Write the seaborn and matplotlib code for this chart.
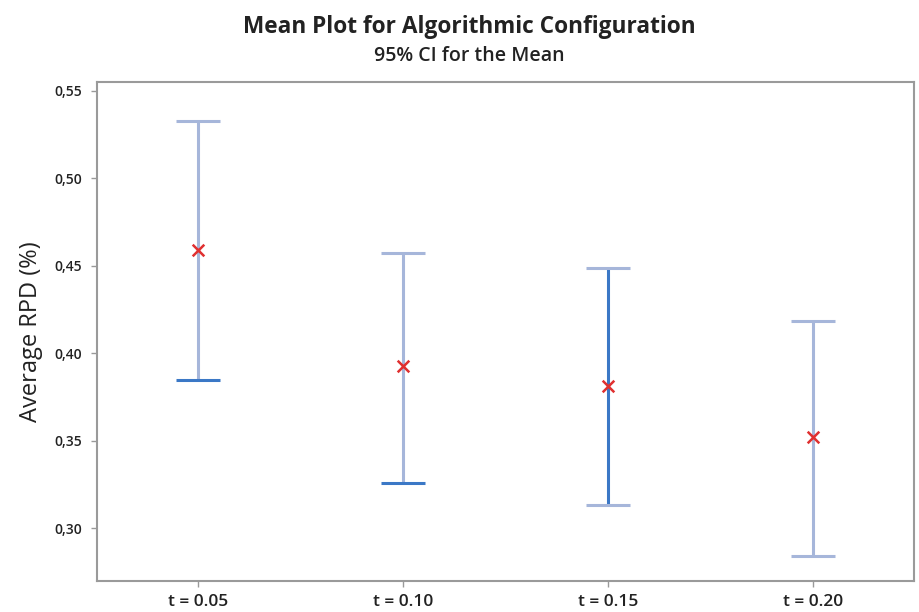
import matplotlib
matplotlib.use("Agg")
import matplotlib.pyplot as plt
import seaborn as sns
import pandas as pd

categories = ["t = 0.05", "t = 0.10", "t = 0.15", "t = 0.20"]
means = [0.459, 0.3925, 0.3815, 0.352]
lower = [0.385, 0.3257, 0.3131, 0.284]
upper = [0.533, 0.4575, 0.449, 0.4187]
yticks = [0.30, 0.35, 0.40, 0.45, 0.50, 0.55]
ytick_labels = ["0,30", "0,35", "0,40", "0,45", "0,50", "0,55"]

df = pd.DataFrame({"cat": categories, "mean": means, "lo": lower, "hi": upper})
df["pos"] = range(len(df))

sns.set_theme(style="white")
plt.rcParams["font.family"] = ["Open Sans", "DejaVu Sans"]

fig = plt.figure(figsize=(9.19, 6.12), dpi=100)
ax = fig.add_axes([97 / 919, 1 - 581 / 612, (914 - 97) / 919, (581 - 82) / 612])

light = "#a6b6da"
dark = "#3b78c6"
line_cols = [light, light, dark, light]
low_cap_cols = [dark, dark, light, light]
hi_cap_cols = [light, light, light, light]
half = 0.107

for i, r in df.iterrows():
    ax.vlines(r["pos"], r["lo"], r["hi"], color=line_cols[i], lw=2.2, zorder=2)
    ax.hlines(r["hi"], r["pos"] - half, r["pos"] + half, color=hi_cap_cols[i], lw=2.2, zorder=2)
    ax.hlines(r["lo"], r["pos"] - half, r["pos"] + half, color=low_cap_cols[i], lw=2.2, zorder=2)

sns.scatterplot(data=df, x="pos", y="mean", marker="x", color="#e03030", s=70,
                linewidth=1.8, ax=ax, zorder=3, legend=False)

ax.set_xlim(-0.495, 3.495)
ax.set_ylim(0.2698, 0.5551)
ax.set_xticks(df["pos"])
ax.set_xticklabels(categories, fontsize=12.5, fontweight="semibold", color="#222222")
ax.set_yticks(yticks)
ax.set_yticklabels(ytick_labels, fontsize=10, fontweight="semibold", color="#222222")
ax.tick_params(axis="both", which="both", length=4, width=1, color="#999999",
               direction="out", bottom=True, left=True)
ax.tick_params(axis="y", pad=7)
ax.tick_params(axis="x", pad=5)
ax.set_xlabel("")
ax.set_ylabel("Average RPD (%)", fontsize=17, color="#222222", labelpad=8)
for s in ax.spines.values():
    s.set_color("#9a9a9a")
    s.set_linewidth(1.5)

fig.text(469 / 919, 1 - 27 / 612, "Mean Plot for Algorithmic Configuration",
         ha="center", va="center", fontsize=16.3, fontweight="bold", color="#222222")
fig.text(469 / 919, 1 - 56 / 612, "95% CI for the Mean",
         ha="center", va="center", fontsize=14, fontweight="semibold", color="#222222")

fig.savefig("out.png", dpi=100)
